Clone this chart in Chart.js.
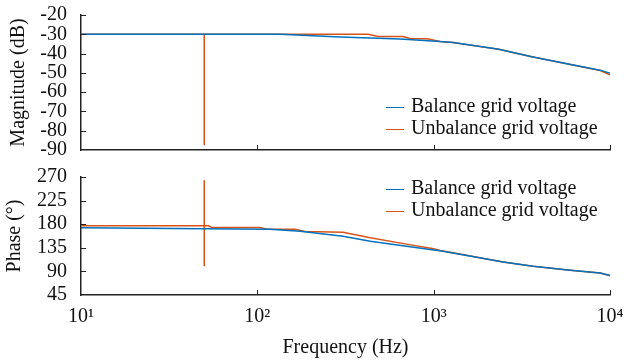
<!DOCTYPE html>
<html>
<head>
<meta charset="utf-8">
<script src="https://cdn.jsdelivr.net/npm/chart.js@4.4.1/dist/chart.umd.min.js"></script>
<style>
  html, body { margin: 0; padding: 0; background: #fff; }
  #wrap { position: relative; width: 624px; height: 362px; overflow: hidden; }
  canvas { position: absolute; left: 0; }
  .legend { position: absolute; left: 386px; font-family: "Liberation Serif", serif; font-size: 20px; color: #111; }
  .legend div { position: relative; height: 22px; line-height: 22px; white-space: nowrap; }
  .legend span.line { display: inline-block; width: 18px; height: 0; border-top: 1.5px solid; vertical-align: middle; margin-right: 7px; }
</style>
</head>
<body>
<div id="wrap">
  <canvas id="magChart" width="624" height="160" style="top:0"></canvas>
  <canvas id="phaseChart" width="624" height="202" style="top:160px"></canvas>
  <div class="legend" id="magLegend" style="top:94px"></div>
  <div class="legend" id="phaseLegend" style="top:176px"></div>
</div>
<script>
// series labels and colours
const seriesLabels = ['Balance grid voltage', 'Unbalance grid voltage'];
const seriesColors = ['#0072BD', '#D95319'];

// x axis ticks (Hz)
const freqTicks = [10, 100, 1000, 10000];
const freqTickLabels = ['10\u00B9', '10\u00B2', '10\u00B3', '10\u2074'];

// magnitude (dB)
const magTicks = [-20, -30, -40, -50, -60, -70, -80, -90];
const magBalFreq = [10, 50, 135, 294, 645, 1087, 1288, 2340, 3600, 5600, 8790, 10000];
const magBalVal  = [-30, -30, -30, -31.4, -32.5, -33.7, -34.2, -37.8, -41.6, -45.1, -48.6, -50.2];
const magUnbFreq = [10, 50, 50, 50, 425, 484, 670, 735, 918, 1087, 1288, 2340, 3600, 5600, 8790, 10000];
const magUnbVal  = [-30, -30, -87.6, -30, -30, -31.1, -31.1, -32.2, -32.3, -33.7, -34.2, -37.8, -41.6, -45.1, -48.8, -51];

// phase (deg)
const phaseTicks = [270, 225, 180, 135, 90, 45];
const phBalFreq = [10, 50, 118, 175, 306, 437, 1000, 1087, 2477, 3664, 5943, 8790, 10000];
const phBalVal  = [173, 171.2, 170.5, 166.6, 157, 147.5, 131, 129.5, 108, 100, 92.3, 87, 82];
const phUnbFreq = [10, 50, 50, 50, 50, 53, 55, 103.5, 113.5, 163.7, 186.6, 306, 437, 700, 1000, 1087, 1288, 2477, 3664, 5943, 8790, 10000];
const phUnbVal  = [177, 177, 264, 100, 177, 177, 173.6, 173.6, 170.5, 170.5, 166, 164.5, 154, 142, 133, 130, 125.5, 108, 100, 92.3, 87, 82];

const serif = 'Liberation Serif';

const toPoints = (xs, ys) => xs.map((x, i) => ({ x: x, y: ys[i] }));

// small inward tick marks, MATLAB style
const innerTicks = {
    id: 'innerTicks',
    afterDraw(chart) {
        const ctx = chart.ctx;
        const area = chart.chartArea;
        const xs = chart.scales.x;
        const ys = chart.scales.y;
        ctx.save();
        ctx.strokeStyle = '#222';
        ctx.lineWidth = 1;
        ctx.beginPath();
        xs.ticks.forEach(t => {
            const px = Math.round(xs.getPixelForValue(t.value)) + 0.5;
            if (px < area.left + 2) return;
            ctx.moveTo(px, area.bottom);
            ctx.lineTo(px, area.bottom - 5);
        });
        ys.ticks.forEach(t => {
            const py = Math.round(ys.getPixelForValue(t.value)) + 0.5;
            if (py > area.bottom - 2) return;
            ctx.moveTo(area.left, py);
            ctx.lineTo(area.left + 5, py);
        });
        ctx.stroke();
        ctx.restore();
    }
};

function makeChart(canvasId, datasets, yTicks, yTitle, titlePad, showX, xHeight, padTop) {
    const ctx = document.getElementById(canvasId).getContext('2d');
    return new Chart(ctx, {
        type: 'line',
        data: {
            datasets: datasets.map((d, i) => ({
                label: seriesLabels[i],
                data: d,
                borderColor: seriesColors[i],
                backgroundColor: seriesColors[i],
                borderWidth: 1.5,
                pointRadius: 0,
                tension: 0,
                fill: false
            }))
        },
        options: {
            responsive: false,
            animation: false,
            layout: { padding: { left: 0, right: 14, top: padTop, bottom: 0 } },
            plugins: {
                legend: { display: false },
                tooltip: { enabled: false }
            },
            scales: {
                x: {
                    type: 'logarithmic',
                    min: 10,
                    max: 10000,
                    afterBuildTicks: s => { s.ticks = freqTicks.map(v => ({ value: v })); },
                    afterFit: s => {
                        s.height = xHeight;
                        s.paddingLeft = 0;
                        s.paddingRight = 0;
                    },
                    grid: { display: false, drawTicks: false },
                    border: { display: true, color: '#222', width: 1.5 },
                    ticks: {
                        display: showX,
                        autoSkip: false,
                        padding: 10,
                        maxRotation: 0,
                        font: { family: serif, size: 20 },
                        color: '#111',
                        callback: v => freqTickLabels[freqTicks.indexOf(v)]
                    },
                    title: {
                        display: showX,
                        text: 'Frequency (Hz)',
                        font: { family: serif, size: 20 },
                        color: '#111',
                        padding: { top: 0, bottom: 2 }
                    }
                },
                y: {
                    min: yTicks[yTicks.length - 1],
                    max: yTicks[0],
                    afterBuildTicks: s => { s.ticks = yTicks.map(v => ({ value: v })); },
                    afterFit: s => {
                        s.width = 81;
                        s.paddingTop = 0;
                        s.paddingBottom = 0;
                    },
                    grid: { display: false, drawTicks: false },
                    border: { display: true, color: '#222', width: 1.5 },
                    ticks: {
                        autoSkip: false,
                        padding: 14,
                        font: { family: serif, size: 20 },
                        color: '#111'
                    },
                    title: {
                        display: true,
                        text: yTitle,
                        font: { family: serif, size: 20 },
                        color: '#111',
                        padding: { top: titlePad, bottom: 0 }
                    }
                }
            }
        },
        plugins: [innerTicks]
    });
}

function buildLegend(id) {
    const box = document.getElementById(id);
    seriesLabels.forEach((lbl, i) => {
        const row = document.createElement('div');
        const ln = document.createElement('span');
        ln.className = 'line';
        ln.style.borderColor = seriesColors[i];
        row.appendChild(ln);
        row.appendChild(document.createTextNode(lbl));
        box.appendChild(row);
    });
}

makeChart('magChart',
    [toPoints(magBalFreq, magBalVal), toPoints(magUnbFreq, magUnbVal)],
    magTicks, 'Magnitude (dB)', 7, false, 10, 15);

makeChart('phaseChart',
    [toPoints(phBalFreq, phBalVal), toPoints(phUnbFreq, phUnbVal)],
    phaseTicks, 'Phase (\u00B0)', 3, true, 67, 17);

buildLegend('magLegend');
buildLegend('phaseLegend');
</script>
</body>
</html>
